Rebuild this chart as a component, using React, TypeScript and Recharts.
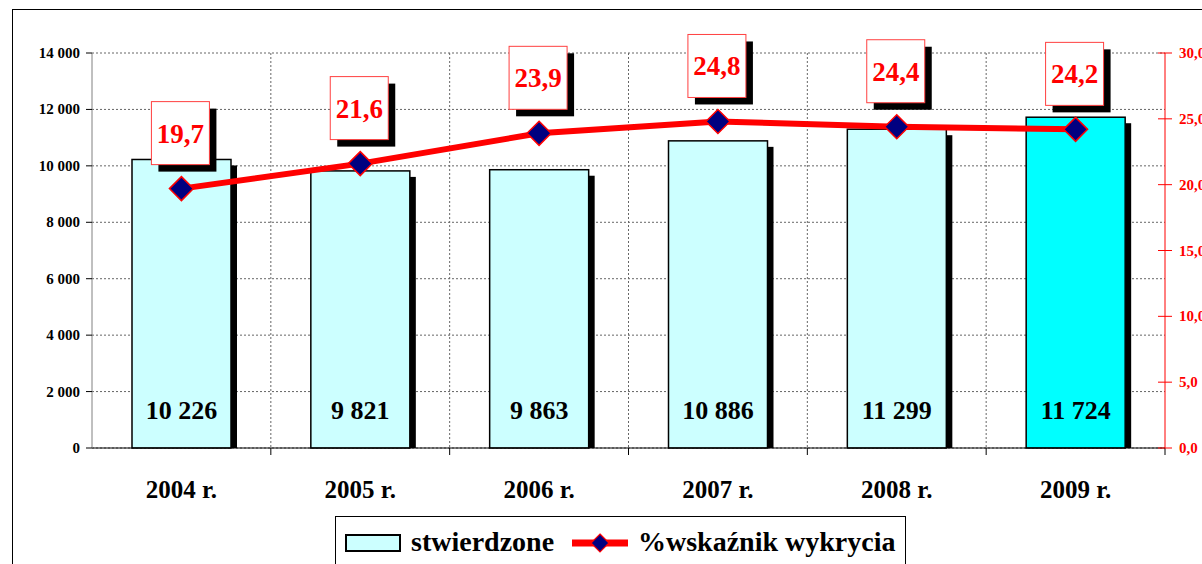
import { ComposedChart, Bar, Line, XAxis, YAxis, CartesianGrid, Cell, LabelList } from 'recharts';

const years = ['2004 r.', '2005 r.', '2006 r.', '2007 r.', '2008 r.', '2009 r.'];
const stwierdzone = [10226, 9821, 9863, 10886, 11299, 11724];
const wskaznik = [19.7, 21.6, 23.9, 24.8, 24.4, 24.2];
const barFills = ['#CCFFFF', '#CCFFFF', '#CCFFFF', '#CCFFFF', '#CCFFFF', '#00FFFF'];
const leftTicks = [0, 2000, 4000, 6000, 8000, 10000, 12000, 14000];
const rightTicks = [0, 5, 10, 15, 20, 25, 30];

const data = years.map((year, i) => ({ year, stwierdzone: stwierdzone[i], wskaznik: wskaznik[i] }));

const W = 1202;
const H = 564;
const LEFT_W = 92;
const RIGHT_W = 37;
const X_H = 116;
const PLOT_W = W - LEFT_W - RIGHT_W;
const FONT = '"Liberation Serif", "Times New Roman", serif';

const thousands = (v: number) => String(v).replace(/\B(?=(\d{3})+(?!\d))/g, ' ');
const comma1 = (v: number) => v.toFixed(1).replace('.', ',');

const ShadowBar = (props: any) => {
  const { x, y, width, height, fill } = props;
  if (!height) return null;
  return (
    <g>
      <rect x={x + width} y={y + 6} width={6} height={Math.max(0, height - 6)} fill="#000" />
      <rect x={x} y={y} width={width} height={height} fill={fill} stroke="#000" strokeWidth={1.5} />
    </g>
  );
};

const BarValue = (props: any) => {
  const vb = props.viewBox || props;
  const { x, y, width, height } = vb;
  return (
    <text x={x + width / 2} y={y + height - 29} textAnchor="middle" style={{ fontFamily: FONT }} fontWeight="bold" fontSize={26} fill="#000">
      {thousands(props.value)}
    </text>
  );
};

const PctBox = (props: any) => {
  const vb = props.viewBox || props;
  const { x, y } = vb;
  const bx = x - 30;
  const by = y - 87;
  return (
    <g>
      <rect x={bx + 7} y={by + 7} width={58} height={63} fill="#000" />
      <rect x={bx} y={by} width={58} height={63} fill="#fff" stroke="#FF4040" strokeWidth={1} />
      <text x={bx + 29} y={by + 41} textAnchor="middle" style={{ fontFamily: FONT }} fontWeight="bold" fontSize={27} fill="#FF0000">
        {comma1(props.value)}
      </text>
    </g>
  );
};

const Diamond = ({ cx, cy }: any) => (
  <path d={`M${cx},${cy - 12} L${cx + 12},${cy} L${cx},${cy + 12} L${cx - 12},${cy} Z`} fill="#000080" stroke="#FF0000" strokeWidth={1.5} />
);

const XTick = (props: any) => {
  const { x, payload } = props;
  const bw = PLOT_W / years.length;
  const axisY = H - X_H;
  return (
    <g>
      <line x1={x + bw / 2} x2={x + bw / 2} y1={axisY} y2={axisY + 7} stroke="#000" />
      <text x={x} y={498} textAnchor="middle" style={{ fontFamily: FONT }} fontWeight="bold" fontSize={25} fill="#000">
        {payload.value}
      </text>
    </g>
  );
};

const LeftTick = (props: any) => {
  const { y, payload } = props;
  return (
    <g>
      <line x1={LEFT_W - 6} x2={LEFT_W} y1={y} y2={y} stroke="#000" />
      <text x={LEFT_W - 12} y={y + 5} textAnchor="end" style={{ fontFamily: FONT }} fontWeight="bold" fontSize={15} fill="#000">
        {thousands(payload.value)}
      </text>
    </g>
  );
};

const RightTick = (props: any) => {
  const { y, payload } = props;
  const ax = W - RIGHT_W;
  return (
    <g>
      <line x1={ax - 7} x2={ax + 7} y1={y} y2={y} stroke="#FF0000" />
      <text x={ax + 14} y={y + 5} textAnchor="start" style={{ fontFamily: FONT }} fontWeight="bold" fontSize={15} fill="#FF0000">
        {comma1(payload.value)}
      </text>
    </g>
  );
};

export default function App() {
  return (
    <div style={{ position: 'fixed', left: 0, top: 0, width: W, height: H, overflow: 'hidden', background: '#fff', fontFamily: FONT }}>
      <div style={{ position: 'absolute', left: 12, top: 9, width: W, height: H, border: '1px solid #000', boxSizing: 'border-box' }} />
      <ComposedChart width={W} height={H} data={data} margin={{ top: 53, right: 0, left: 0, bottom: 0 }}>
        <CartesianGrid
          yAxisId="left"
          stroke="#666"
          strokeDasharray="2 2"
          verticalCoordinatesGenerator={({ offset }: any) =>
            years.slice(1).map((_, i) => offset.left + ((i + 1) * offset.width) / years.length)
          }
        />
        <XAxis dataKey="year" height={X_H} tickLine={false} axisLine={{ stroke: '#000' }} tick={<XTick />} interval={0} />
        <YAxis
          yAxisId="left"
          width={LEFT_W}
          domain={[0, 14000]}
          ticks={leftTicks}
          tickLine={false}
          axisLine={{ stroke: '#808080' }}
          tick={<LeftTick />}
        />
        <YAxis
          yAxisId="right"
          orientation="right"
          width={RIGHT_W}
          domain={[0, 30]}
          ticks={rightTicks}
          tickLine={false}
          axisLine={{ stroke: '#FF0000' }}
          tick={<RightTick />}
        />
        <Bar yAxisId="left" dataKey="stwierdzone" barSize={99} shape={<ShadowBar />} isAnimationActive={false}>
          {data.map((_, i) => (
            <Cell key={`c-${i}`} fill={barFills[i]} />
          ))}
          <LabelList dataKey="stwierdzone" content={<BarValue />} />
        </Bar>
        <Line
          yAxisId="right"
          dataKey="wskaznik"
          stroke="#FF0000"
          strokeWidth={6}
          dot={<Diamond />}
          activeDot={false}
          isAnimationActive={false}
        >
          <LabelList dataKey="wskaznik" content={<PctBox />} />
        </Line>
      </ComposedChart>
      <div
        style={{
          position: 'absolute',
          left: 335,
          top: 516,
          width: 571,
          height: 60,
          border: '1px solid #000',
          background: '#fff',
          boxSizing: 'border-box',
          fontFamily: FONT,
          fontWeight: 'bold',
          fontSize: 28,
          color: '#000',
        }}
      >
        <svg width={56} height={18} style={{ position: 'absolute', left: 9, top: 17 }}>
          <rect x={1} y={1} width={54} height={16} fill="#CCFFFF" stroke="#000" strokeWidth={2} />
        </svg>
        <span style={{ position: 'absolute', left: 75, top: 8, lineHeight: '34px', fontFamily: FONT }}>stwierdzone</span>
        <svg width={58} height={26} style={{ position: 'absolute', left: 235, top: 13 }}>
          <line x1={1} x2={57} y1={13} y2={13} stroke="#FF0000" strokeWidth={7} />
          <path d="M29,4 L38,13 L29,22 L20,13 Z" fill="#000080" stroke="#FF0000" strokeWidth={1.2} />
        </svg>
        <span style={{ position: 'absolute', left: 302, top: 8, lineHeight: '34px', fontFamily: FONT }}>%wskaźnik wykrycia</span>
      </div>
    </div>
  );
}
